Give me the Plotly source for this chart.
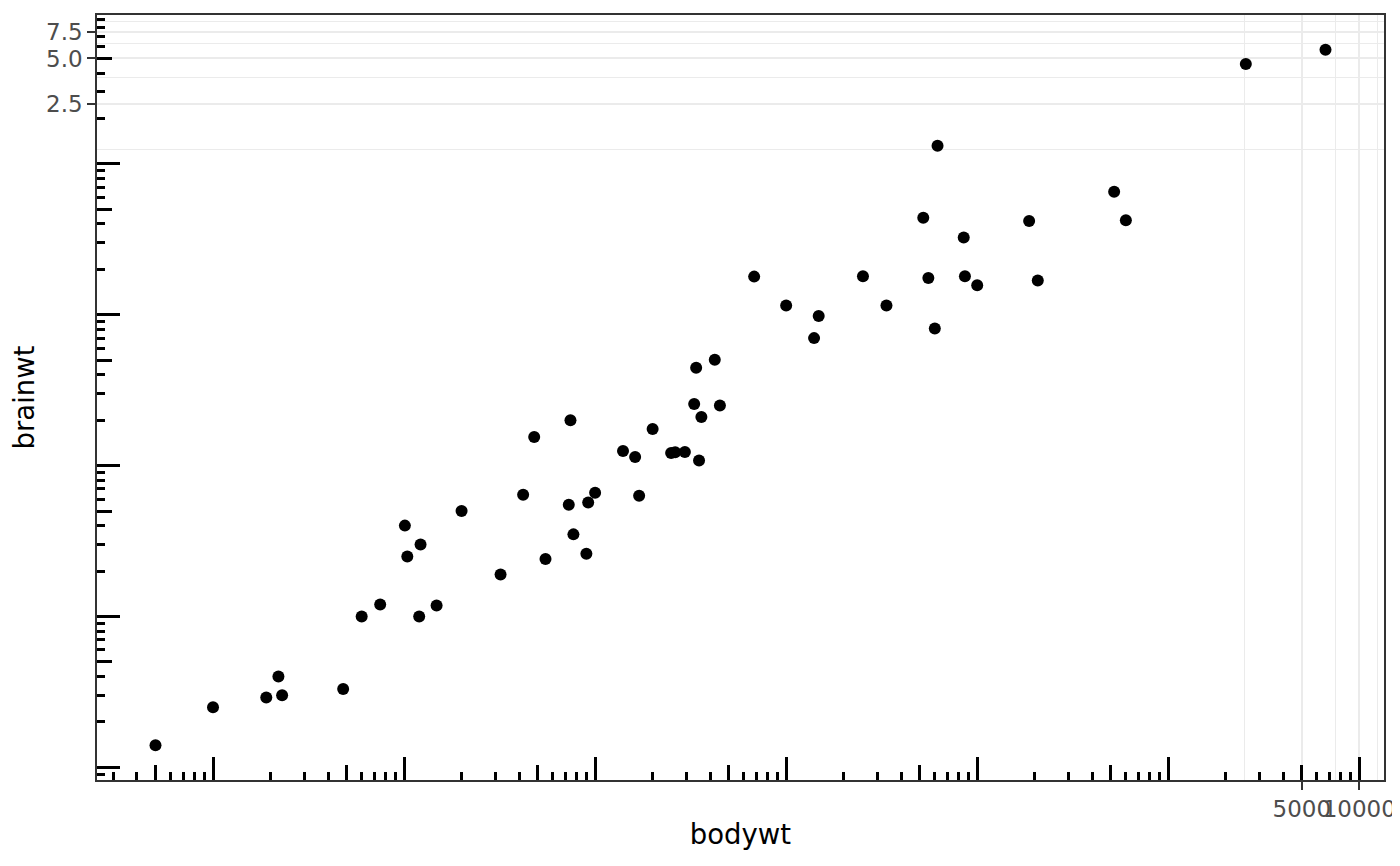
import numpy as np
import plotly.graph_objects as go

# msleep: body weight (kg) vs brain weight (kg), rows with a brain weight
bodywt = [0.005, 0.01, 0.019, 0.022, 0.023, 0.048, 0.06, 0.075, 0.101, 0.104,
          0.12, 0.122, 0.148, 0.2, 0.32, 0.42, 0.48, 0.55, 0.728, 0.743,
          0.77, 0.9, 0.92, 1.0, 1.4, 1.62, 1.7, 2.0, 2.5, 2.625,
          2.95, 3.3, 3.38, 3.5, 3.6, 4.23, 4.5, 6.8, 10.0, 14.0,
          14.8, 25.235, 33.5, 52.2, 55.5, 60.0, 62.0, 85.0, 86.25, 100.0,
          187.0, 207.501, 521.0, 600.0, 2547.0, 6654.0]
brainwt = [0.00014, 0.00025, 0.00029, 0.0004, 0.0003, 0.00033, 0.001, 0.0012, 0.004, 0.0025,
           0.001, 0.003, 0.00118, 0.005, 0.0019, 0.0064, 0.0155, 0.0024, 0.0055, 0.02,
           0.0035, 0.0026, 0.0057, 0.0066, 0.0125, 0.0114, 0.0063, 0.0175, 0.0121, 0.01227,
           0.0123, 0.0256, 0.0445, 0.0108, 0.021, 0.0504, 0.025, 0.179, 0.115, 0.07,
           0.0982, 0.18, 0.115, 0.44, 0.175, 0.081, 1.32, 0.325, 0.18, 0.157,
           0.419, 0.169, 0.655, 0.423, 4.603, 5.712]

# linear breaks (coord_trans keeps the untransformed breaks)
x_breaks = [5000, 10000]
x_labels = ["5000", "10000"]
x_minor = [2500, 7500, 12500]
y_breaks = [2.5, 5.0, 7.5]
y_labels = ["2.5", "5.0", "7.5"]
y_minor = [1.25, 3.75, 6.25, 8.75]


def log_range(vals):
    lo, hi = np.log10(min(vals)), np.log10(max(vals))
    pad = (hi - lo) * 0.05
    return [lo - pad, hi + pad]


def logticks(rng):
    decades = range(int(np.floor(rng[0])) - 1, int(np.ceil(rng[1])) + 1)
    inside = lambda v: rng[0] <= np.log10(v) <= rng[1]
    long_t = [10.0 ** d for d in decades if inside(10.0 ** d)]
    mid_t = [5 * 10.0 ** d for d in decades if inside(5 * 10.0 ** d)]
    short_t = [k * 10.0 ** d for d in decades for k in (2, 3, 4, 6, 7, 8, 9)
               if inside(k * 10.0 ** d)]
    return long_t, mid_t, short_t


xr = log_range(bodywt)
yr = log_range(brainwt)
xl, xm, xs = logticks(xr)
yl, ym, ys = logticks(yr)

GRID = "#EBEBEB"
fig = go.Figure()
fig.add_trace(go.Scatter(x=bodywt, y=brainwt, mode="markers",
                         marker=dict(color="black", size=12),
                         hoverinfo="x+y", showlegend=False))
# empty traces so the overlay axes get drawn
fig.add_trace(go.Scatter(x=[], y=[], xaxis="x2", yaxis="y2", showlegend=False))
fig.add_trace(go.Scatter(x=[], y=[], xaxis="x3", yaxis="y3", showlegend=False))

tick_font = dict(family="DejaVu Sans", size=23, color="#4D4D4D")
base_axis = dict(type="log", showline=True, linecolor="#333333", linewidth=1.5,
                 mirror=True, zeroline=False, ticks="outside", ticklen=8,
                 tickwidth=2, tickcolor="#333333", tickfont=tick_font,
                 tickangle=0, automargin=False, ticklabeloverflow="allow",
                 showgrid=True, gridcolor=GRID, gridwidth=2)
overlay = dict(type="log", showline=False, showgrid=False, zeroline=False,
               showticklabels=False, ticks="inside", tickcolor="black",
               tickwidth=2.5, tickmode="array", automargin=False)

# the page body adds an 8px offset, so the figure is sized to fit the window
fig.update_layout(
    width=1392, height=850,
    margin=dict(l=89, r=16, t=7, b=78),
    paper_bgcolor="white", plot_bgcolor="white",
    font=dict(family="DejaVu Sans", color="black"),
    xaxis=dict(base_axis, range=xr, tickmode="array", tickvals=x_breaks,
               ticktext=x_labels,
               minor=dict(tickmode="array", tickvals=x_minor, showgrid=True,
                          gridcolor=GRID, gridwidth=1, ticks=""),
               title=dict(text="bodywt", font=dict(size=27.5), standoff=3)),
    yaxis=dict(base_axis, range=yr, tickmode="array", tickvals=y_breaks,
               ticktext=y_labels,
               minor=dict(tickmode="array", tickvals=y_minor, showgrid=True,
                          gridcolor=GRID, gridwidth=1, ticks=""),
               title=dict(text="brainwt", font=dict(size=27.5), standoff=11)),
    xaxis2=dict(overlay, overlaying="x", anchor="y", side="bottom", range=xr,
                tickvals=xl, ticklen=23,
                minor=dict(tickmode="array", tickvals=xs, ticks="inside",
                           ticklen=8, tickwidth=2.5, tickcolor="black")),
    xaxis3=dict(overlay, overlaying="x", anchor="y", side="bottom", range=xr,
                tickvals=xm, ticklen=15),
    yaxis2=dict(overlay, overlaying="y", anchor="x", side="left", range=yr,
                tickvals=yl, ticklen=23,
                minor=dict(tickmode="array", tickvals=ys, ticks="inside",
                           ticklen=8, tickwidth=2.5, tickcolor="black")),
    yaxis3=dict(overlay, overlaying="y", anchor="x", side="left", range=yr,
                tickvals=ym, ticklen=15),
)

fig.write_html("out.html")
